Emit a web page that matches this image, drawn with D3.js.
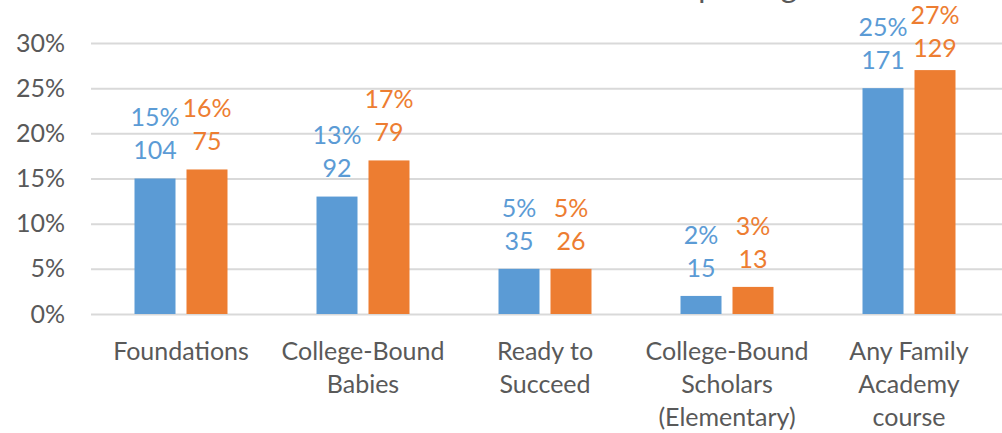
<!DOCTYPE html>
<html>
<head>
<meta charset="utf-8">
<script src="https://cdn.jsdelivr.net/npm/d3@7"></script>
<style>
  body { margin: 0; background: #fff; }
  text { font-family: Lato, 'Open Sans', sans-serif; }
</style>
</head>
<body>
<div id="app"></div>
<script>
'use strict'

const categories = ['Foundations', 'College-Bound\nBabies', 'Ready to\nSucceed', 'College-Bound\nScholars\n(Elementary)', 'Any Family\nAcademy\ncourse']
const series = ['first', 'second']
const pctFirst = [0.15, 0.13, 0.05, 0.02, 0.25]
const pctSecond = [0.16, 0.17, 0.05, 0.03, 0.27]
const countFirst = [104, 92, 35, 15, 171]
const countSecond = [75, 79, 26, 13, 129]
const yTicks = [0, 0.05, 0.10, 0.15, 0.20, 0.25, 0.30]
const titleText = 'Percent of families reporting'

const colors = { first: '#5B9BD5', second: '#ED7D31' }

const main = () => {
	const W = 1002, H = 433

	const svg = d3.select('#app')
		.append('svg')
		.attr('width', W)
		.attr('height', H)

	const x = d3.scaleBand()
		.domain(categories)
		.range([90, 1000])

	const x1 = d3.scaleBand()
		.domain(series)
		.range([0, x.bandwidth()])
		.paddingInner(0.2115)
		.paddingOuter(0.856)

	const y = d3.scaleLinear()
		.domain([0, 0.30])
		.range([314, 43])

	const fmt = d3.format('.0%')

	// gridlines + y labels
	const yAxis = svg.append('g')
		.attr('transform', 'translate(91, 0)')
		.call(d3.axisLeft(y).tickValues(yTicks).tickFormat(fmt).tickSize(-(W - 91)).tickPadding(26))
	yAxis.select('.domain').remove()
	yAxis.selectAll('.tick line').attr('stroke', '#D9D9D9').attr('stroke-width', 2)
	yAxis.selectAll('.tick text')
		.attr('fill', '#595959')
		.style('font-size', '25px')
		.style('font-family', 'Lato, sans-serif')

	// title sits above the picture, only its descenders show
	svg.append('text')
		.attr('x', 797)
		.attr('y', -2)
		.attr('text-anchor', 'end')
		.style('font-size', '31px')
		.attr('fill', '#595959')
		.text(titleText)

	const rows = categories.map((c, i) => ({
		cat: c,
		vals: [
			{ key: 'first', pct: pctFirst[i], n: countFirst[i] },
			{ key: 'second', pct: pctSecond[i], n: countSecond[i] }
		]
	}))

	const groups = svg.selectAll('.grp')
		.data(rows)
		.enter().append('g')
		.attr('class', 'grp')
		.attr('transform', d => `translate(${x(d.cat)}, 0)`)

	groups.selectAll('rect')
		.data(d => d.vals)
		.enter().append('rect')
		.attr('x', d => x1(d.key))
		.attr('y', d => y(d.pct))
		.attr('width', x1.bandwidth())
		.attr('height', d => y(0) - y(d.pct))
		.attr('fill', d => colors[d.key])

	// data labels: keep the label block inside the chart
	const shift = d => Math.max(0, 15 - (y(d.pct) - 61))

	groups.selectAll('.pct')
		.data(d => d.vals)
		.enter().append('text')
		.attr('class', 'pct')
		.attr('x', d => x1(d.key) + x1.bandwidth() / 2)
		.attr('y', d => y(d.pct) - 61 + shift(d))
		.attr('dy', '0.35em')
		.attr('text-anchor', 'middle')
		.attr('fill', d => colors[d.key])
		.style('font-size', '25px')
		.text(d => fmt(d.pct))

	groups.selectAll('.cnt')
		.data(d => d.vals)
		.enter().append('text')
		.attr('class', 'cnt')
		.attr('x', d => x1(d.key) + x1.bandwidth() / 2)
		.attr('y', d => y(d.pct) - 28 + shift(d))
		.attr('dy', '0.35em')
		.attr('text-anchor', 'middle')
		.attr('fill', d => colors[d.key])
		.style('font-size', '25px')
		.text(d => d.n)

	// category labels
	const catLabels = svg.selectAll('.cat')
		.data(categories)
		.enter().append('text')
		.attr('class', 'cat')
		.attr('x', d => x(d) + x.bandwidth() / 2)
		.attr('y', 351)
		.attr('text-anchor', 'middle')
		.attr('fill', '#595959')
		.style('font-size', '25px')

	catLabels.selectAll('tspan')
		.data(d => d.split('\n'))
		.enter().append('tspan')
		.attr('x', function () { return d3.select(this.parentNode).attr('x') })
		.attr('y', (d, i) => 351 + i * 33)
		.attr('dy', '0.35em')
		.text(d => d)
}

main()
</script>
</body>
</html>
